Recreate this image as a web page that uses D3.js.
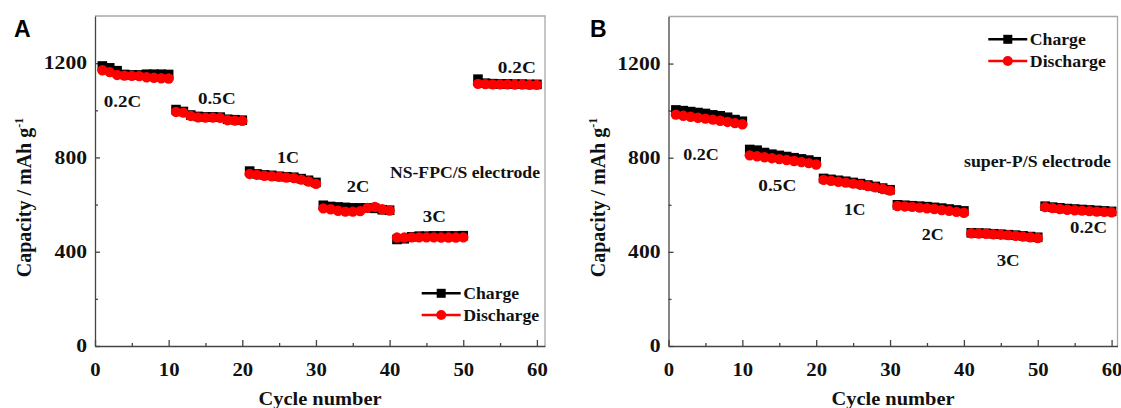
<!DOCTYPE html>
<html>
<head>
<meta charset="utf-8">
<script src="https://cdn.jsdelivr.net/npm/d3@7"></script>
<style>
  body { margin: 0; background: #fff; }
  svg { display: block; }
  text { font-family: "Liberation Serif", "Times New Roman", serif; font-weight: bold; fill: #111; }
</style>
</head>
<body>
<svg id="chart" width="1121" height="408"></svg>
<script>
// ---- data: rate capability, capacity (mAh g-1) per cycle ----
const cyclesA = [1,2,3,4,5,6,7,8,9,10, 11,12,13,14,15,16,17,18,19,20,
                 21,22,23,24,25,26,27,28,29,30, 31,32,33,34,35,36,37,38,39,40,
                 41,42,43,44,45,46,47,48,49,50, 52,53,54,55,56,57,58,59,60];
const chargeA = [1188,1180,1168,1152,1150,1150,1153,1153,1153,1152,
                 1003,995,980,974,972,972,971,962,960,958,
                 742,730,726,724,720,718,716,710,703,694,
                 597,592,590,588,586,586,586,584,578,576,
                 452,455,463,466,466,467,467,467,467,468,
                 1132,1115,1113,1112,1112,1111,1111,1110,1110];
const dischargeA = [1170,1162,1150,1147,1146,1145,1140,1138,1136,1135,
                    993,990,976,970,969,969,968,958,956,955,
                    730,726,722,720,718,715,712,706,698,688,
                    584,580,574,570,570,572,586,590,580,575,
                    460,460,461,461,461,461,460,460,460,461,
                    1112,1111,1110,1110,1110,1109,1109,1108,1108];

const cyclesB = [1,2,3,4,5,6,7,8,9,10, 11,12,13,14,15,16,17,18,19,20,
                 21,22,23,24,25,26,27,28,29,30, 31,32,33,34,35,36,37,38,39,40,
                 41,42,43,44,45,46,47,48,49,50, 51,52,53,54,55,56,57,58,59,60];
const chargeB = [1003,1000,996,992,988,982,978,972,962,955,
                 835,832,822,815,810,805,800,795,790,783,
                 712,708,704,700,695,690,684,678,671,664,
                 600,598,596,594,592,589,586,582,578,574,
                 481,480,479,477,475,473,471,468,465,462,
                 594,590,587,584,582,580,578,576,574,572];
const dischargeB = [983,978,974,970,966,962,957,952,947,942,
                    810,806,802,798,794,790,786,782,777,771,
                    706,702,698,694,690,685,680,674,667,660,
                    595,593,591,588,585,582,578,574,570,566,
                    479,478,477,475,473,471,468,465,462,459,
                    590,586,582,579,577,575,573,571,570,568];

const rateLabels = ["0.2C", "0.5C", "1C", "2C", "3C", "0.2C"];
const seriesNames = ["Charge", "Discharge"];
const yTicks = [0, 400, 800, 1200];
const yMinorTicks = [200, 600, 1000];
const xTicks = [0, 10, 20, 30, 40, 50, 60];
const xMinorTicks = [5, 15, 25, 35, 45, 55];

const svg = d3.select("#chart");

function fit(sel, w) {
  sel.attr("textLength", w).attr("lengthAdjust", "spacingAndGlyphs");
}
function widen(sel, k) {
  sel.each(function () {
    const L = this.getComputedTextLength();
    d3.select(this).attr("textLength", L * k).attr("lengthAdjust", "spacingAndGlyphs");
  });
}

const SQ = 9.6;   // square marker side
const CR = 5.2;   // circle marker radius

function drawPanel(p) {
  const x = d3.scaleLinear().domain([0, p.xMax]).range([p.left, p.right]);
  const y = d3.scaleLinear().domain([0, 1400]).range([p.bottom, p.top]);
  const g = svg.append("g");

  // panel letter
  g.append("text").attr("x", p.letterX).attr("y", 36.5)
    .style("font-family", "'Liberation Sans', Arial, sans-serif")
    .style("font-size", "23px").style("fill", "#000").text(p.letter);

  // top / right frame
  g.append("path")
    .attr("d", `M${p.left},${p.top}H${p.right}V${p.bottom}`)
    .attr("fill", "none").attr("stroke", "#a8a8a8").attr("stroke-width", 1.3);

  // axes with inward ticks
  const yAx = g.append("g").attr("transform", `translate(${p.left},0)`)
    .call(d3.axisLeft(y).tickValues(yTicks).tickFormat(d3.format("d"))
      .tickSize(-5).tickSizeOuter(0).tickPadding(8));
  g.append("g").attr("transform", `translate(${p.left},0)`)
    .call(d3.axisLeft(y).tickValues(yMinorTicks).tickSize(-3).tickFormat("").tickSizeOuter(0))
    .call(s => s.select(".domain").remove());
  const xAx = g.append("g").attr("transform", `translate(0,${p.bottom})`)
    .call(d3.axisBottom(x).tickValues(xTicks).tickFormat(d3.format("d"))
      .tickSize(-6).tickSizeOuter(0).tickPadding(17));
  g.append("g").attr("transform", `translate(0,${p.bottom})`)
    .call(d3.axisBottom(x).tickValues(xMinorTicks).tickSize(-3).tickFormat("").tickSizeOuter(0))
    .call(s => s.select(".domain").remove());
  g.selectAll(".domain, .tick line").attr("stroke", "#444").attr("stroke-width", 1.3);
  [yAx, xAx].forEach(a => a.selectAll("text")
    .style("font-family", "'Liberation Serif', serif").style("font-weight", "bold")
    .style("font-size", "18px").style("fill", "#111"));
  widen(yAx.selectAll("text"), 1.2);
  widen(xAx.selectAll("text"), 1.15);

  // axis titles
  const yt = g.append("text")
    .attr("transform", `translate(${p.left - 64},${197.5}) rotate(-90)`)
    .attr("text-anchor", "middle").style("font-size", "20px");
  yt.append("tspan").text("Capacity / mAh g");
  yt.append("tspan").attr("dy", -8).style("font-size", "12px").text("-1");

  g.append("text").attr("x", (p.left + p.right) / 2).attr("y", 404.5)
    .attr("text-anchor", "middle").style("font-size", "19.5px")
    .text("Cycle number").call(fit, 123);

  // series, broken into one run per C-rate
  const series = [
    { name: seriesNames[0], vals: p.charge, color: "#000", shape: "square" },
    { name: seriesNames[1], vals: p.discharge, color: "#ff0000", shape: "circle" }
  ];
  const line = d3.line().x(d => x(d.c)).y(d => y(d.v));
  series.forEach(s => {
    const pts = p.cycles.map((c, i) => ({ c, v: s.vals[i], seg: Math.floor((c - 1) / 10) }));
    const groups = d3.groups(pts, d => d.seg);
    const sg = g.append("g");
    groups.forEach(([, arr]) => {
      sg.append("path").attr("d", line(arr)).attr("fill", "none")
        .attr("stroke", s.color).attr("stroke-width", 2.5);
    });
    if (s.shape === "square") {
      sg.selectAll("rect").data(pts).join("rect")
        .attr("x", d => x(d.c) - SQ / 2).attr("y", d => y(d.v) - SQ / 2)
        .attr("width", SQ).attr("height", SQ).attr("fill", s.color);
    } else {
      sg.selectAll("circle").data(pts).join("circle")
        .attr("cx", d => x(d.c)).attr("cy", d => y(d.v)).attr("r", CR).attr("fill", s.color);
    }
  });

  // rate annotations (placed in data coordinates)
  p.notes.forEach(([txt, cx, cy, w]) => {
    g.append("text").attr("x", x(cx)).attr("y", y(cy))
      .style("font-size", "17.5px").text(txt).call(fit, w);
  });
  g.append("text").attr("x", x(p.elec[1])).attr("y", y(p.elec[2]))
    .style("font-size", "17px").text(p.elec[0]).call(fit, p.elec[3]);

  // legend
  series.forEach((s, i) => {
    const ly = p.legY + i * 21.7;
    const lx0 = p.right - p.legX;
    g.append("line").attr("x1", lx0).attr("x2", lx0 + 39).attr("y1", ly).attr("y2", ly)
      .attr("stroke", s.color).attr("stroke-width", 2.5);
    if (s.shape === "square") {
      g.append("rect").attr("x", lx0 + 19.5 - 4.5).attr("y", ly - 4.5)
        .attr("width", 9).attr("height", 9).attr("fill", s.color);
    } else {
      g.append("circle").attr("cx", lx0 + 19.5).attr("cy", ly).attr("r", 5).attr("fill", s.color);
    }
    g.append("text").attr("x", lx0 + 41.5).attr("y", ly + 5.8)
      .style("font-size", "17px").text(s.name).call(fit, i === 0 ? 56 : 76);
  });
}

drawPanel({
  letter: "A", letterX: 14,
  left: 95, right: 545, top: 16, bottom: 346, xMax: 61.1,
  cycles: cyclesA, charge: chargeA, discharge: dischargeA,
  notes: [[rateLabels[0], 1.2, 1014, 37.5], [rateLabels[1], 14.0, 1027, 37.5],
          [rateLabels[2], 24.7, 776, 22], [rateLabels[3], 34.2, 653, 22.5],
          [rateLabels[4], 44.5, 526, 23], [rateLabels[5], 54.7, 1160, 38]],
  elec: ["NS-FPC/S electrode", 40.05, 713, 150],
  legX: 123.3, legY: 293.3
});

drawPanel({
  letter: "B", letterX: 590,
  left: 668.5, right: 1117.5, top: 16.5, bottom: 346, xMax: 60.8,
  cycles: cyclesB, charge: chargeB, discharge: dischargeB,
  notes: [[rateLabels[0], 2.0, 791, 35.5], [rateLabels[1], 12.16, 659, 38],
          [rateLabels[2], 23.76, 556, 21.5], [rateLabels[3], 34.29, 450, 22],
          [rateLabels[4], 44.44, 339, 23], [rateLabels[5], 54.37, 479, 37]],
  elec: ["super-P/S electrode", 40.01, 759, 147],
  legX: 129.2, legY: 39.3
});
</script>
</body>
</html>
